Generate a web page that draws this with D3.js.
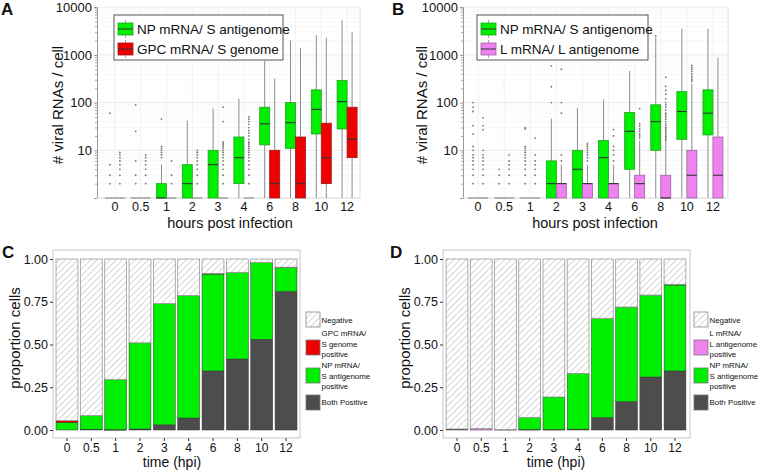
<!DOCTYPE html>
<html><head><meta charset="utf-8">
<script src="https://cdn.jsdelivr.net/npm/d3@7"></script>
<style>
body{margin:0;background:#fff}
svg{display:block}
text{font-family:'Liberation Sans',Arial,Helvetica,sans-serif;fill:#111}
</style>
</head><body>
<svg id="fig" width="760" height="473"></svg>
<script>
// ---------- data ----------
const cats = ["0","0.5","1","2","3","4","6","8","10","12"];
const yTicksLog = [10,100,1000,10000];
const yTicksProp = [0,0.25,0.5,0.75,1];

// Panel A: NP mRNA / S antigenome
const aNpQ1  = [1,1,1,1,1,2,13,11,22,28];
const aNpMed = [1,1,1,2,5,7,36,38,72,105];
const aNpQ3  = [1,1,2,5,10,19,80,100,185,290];
const aNpLo  = [1,1,1,1,1,1,1,1,1,1];
const aNpHi  = [1,1,5,42,75,120,750,2000,2600,5300];
const aNpOut = [[2,3,5,60],[2,3,6,25,90],[7,8,9,10,11,12,45],[],[],[],[],[],[],[]];
// Panel A: GPC mRNA / S genome
const aGpcQ1  = [1,1,1,1,1,1,1,1,2,7];
const aGpcMed = [1,1,1,1,1,1,2,2,7,17];
const aGpcQ3  = [1,1,1,1,1,1,10,19,37,80];
const aGpcLo  = [1,1,1,1,1,1,1,1,1,1];
const aGpcHi  = [1,1,1,1,1,1,320,1400,2300,3000];
const aGpcOut = [[2,3,4,5,6,7,8,9],[2,3,4,5,6,7,8],[2,3,6],[2,3,4,5,6,7,8,9,10],
  [2,3,4,5,6,7,8,9,10,11,12,13,14,15,40,80],
  [2,3,4,5,6,7,8,9,10,11,12,13,14,15,17,20,23,26,30,35,40,45,50],[],[],[],[]];

// Panel B: NP mRNA / S antigenome
const bNpQ1  = [1,1,1,1,1,1,4,10,17,21];
const bNpMed = [1,1,1,2,4,7,25,40,65,60];
const bNpQ3  = [1,1,1,6,10,16,62,90,170,185];
const bNpLo  = [1,1,1,1,1,1,1,1,1,1];
const bNpHi  = [1,1,1,46,78,117,460,2300,3550,3550];
const bNpOut = [[2,3,4,5,6,7,8,10,12,22,33,65,80,100],[2,3,4],[2,3,4,5,6,7,8,9,10,11,12,28,30],
  [100,215,590],[],[],[],[2500],[],[]];
// Panel B: L mRNA / L antigenome
const bLQ1  = [1,1,1,1,1,1,1,1,1,1];
const bLMed = [1,1,1,2,2,2,2,1,3,3];
const bLQ3  = [1,1,1,2,2,2,3,3,10,19];
const bLLo  = [1,1,1,1,1,1,1,1,1,1];
const bLHi  = [1,1,1,5,5,5,16,15,250,870];
const bLOut = [[2,3,4,5,6,7,8,10,27,33,48],[2,3,4,5,6,8],[2,3,4,5,6,8,18],[6,8,60,100,500],
  [6,7,8,9,10,11,12,13,14],[6,8,10,12,20,27],[18,20,22,25,28,32,36,75],
  [16,17,18,19,20,22,24,26,28,30,33,36,40,45,50,55,60,70,80,90,100,120,150,180,220,340],
  [280,300,330,360,400,450,500,550,600],[]];

// Panel C: proportions
const cBoth = [0,0.004,0.002,0.006,0.03,0.07,0.345,0.415,0.53,0.81];
const cNp   = [0.045,0.081,0.293,0.504,0.71,0.717,0.567,0.507,0.45,0.14];
const cGpc  = [0.01,0,0,0,0,0,0.004,0,0,0.002];
const cNeg  = [0.945,0.915,0.705,0.49,0.26,0.213,0.084,0.078,0.02,0.048];
// Panel D: proportions
const dBoth = [0.006,0,0.003,0.003,0.003,0.005,0.072,0.166,0.31,0.345];
const dNp   = [0,0,0,0.071,0.19,0.326,0.581,0.553,0.479,0.503];
const dL    = [0,0.008,0,0,0,0,0,0,0,0.004];
const dNeg  = [0.994,0.992,0.997,0.926,0.807,0.669,0.347,0.281,0.211,0.148];

const GREEN = "#00ee00", RED = "#ee0000", PINK = "#ee82ee", DARK = "#4d4d4d";

const svg = d3.select("#fig");
const defs = svg.append("defs");
const pat = defs.append("pattern").attr("id","hatch").attr("patternUnits","userSpaceOnUse")
  .attr("width",4.5).attr("height",4.5).attr("patternTransform","rotate(45)");
pat.append("rect").attr("width",4.5).attr("height",4.5).attr("fill","#fff");
pat.append("line").attr("x1",0).attr("y1",0).attr("x2",0).attr("y2",4.5)
  .attr("stroke","#8a8a8a").attr("stroke-width",0.7);

function series(q1,med,q3,lo,hi,out){
  return cats.map((c,i)=>({c,q1:q1[i],med:med[i],q3:q3[i],lo:lo[i],hi:hi[i],out:out[i]}));
}

// ---------- box plot panel ----------
function boxPanel(o){
  const g = svg.append("g");
  const x = d3.scaleBand().domain(cats).range(o.band);
  const y = d3.scaleLog().domain([1,10000]).range([198,7.2]);
  const minor = [];
  [1,10,100,1000].forEach(d=>{for(let k=2;k<10;k++) minor.push(d*k);});
  g.append("g").selectAll("line").data(minor).join("line")
    .attr("x1",o.axisX).attr("x2",o.right).attr("y1",d=>y(d)).attr("y2",d=>y(d))
    .attr("stroke","#f3f3f3").attr("stroke-width",0.6);
  g.append("g").selectAll("line").data(yTicksLog).join("line")
    .attr("x1",o.axisX).attr("x2",o.right).attr("y1",d=>y(d)).attr("y2",d=>y(d))
    .attr("stroke","#e6e6e6").attr("stroke-width",0.8);
  g.append("g").selectAll("line").data(cats).join("line")
    .attr("x1",d=>x(d)+x.bandwidth()/2).attr("x2",d=>x(d)+x.bandwidth()/2)
    .attr("y1",y(10000)).attr("y2",y(1)).attr("stroke","#eeeeee").attr("stroke-width",0.8);
  g.append("line").attr("x1",o.right).attr("x2",o.right).attr("y1",y(10000)).attr("y2",y(1))
    .attr("stroke","#e0e0e0");
  const ax = g.append("g").attr("transform",`translate(${o.axisX},0)`)
    .call(d3.axisLeft(y).tickValues(yTicksLog).tickFormat(d3.format("d")).tickSize(3).tickPadding(2));
  ax.select(".domain").attr("stroke","#999");
  ax.selectAll(".tick line").attr("stroke","#999");
  ax.selectAll("text").attr("font-size",13).attr("fill","#111").attr("font-family","'Liberation Sans',Arial,sans-serif");
  const axm = g.append("g").attr("transform",`translate(${o.axisX},0)`)
    .call(d3.axisLeft(y).tickValues(minor).tickFormat("").tickSize(2));
  axm.select(".domain").remove();
  axm.selectAll(".tick line").attr("stroke","#aaa");
  g.append("line").attr("x1",o.axisX).attr("x2",o.right).attr("y1",y(1)).attr("y2",y(1))
    .attr("stroke","#d6d6d6");
  g.append("g").selectAll("text").data(cats).join("text")
    .attr("x",d=>x(d)+x.bandwidth()/2).attr("y",211).attr("text-anchor","middle")
    .attr("font-size",12.5).text(d=>d);
  const bw = 10;
  o.series.forEach((s,si)=>{
    const off = si===0 ? -bw/2 : bw/2;
    const sg = g.append("g");
    s.data.forEach(d=>{
      const cx = x(d.c)+x.bandwidth()/2+off;
      sg.append("line").attr("x1",cx).attr("x2",cx).attr("y1",y(d.q3)).attr("y2",y(d.hi))
        .attr("stroke","#8c8c8c").attr("stroke-width",1);
      sg.append("line").attr("x1",cx).attr("x2",cx).attr("y1",y(d.q1)).attr("y2",y(d.lo))
        .attr("stroke","#8c8c8c").attr("stroke-width",1);
      sg.selectAll(null).data(d.out).join("circle")
        .attr("cx",cx).attr("cy",v=>y(v)).attr("r",0.9).attr("fill","#777");
      if(d.q3>d.q1){
        sg.append("rect").attr("x",cx-bw/2).attr("width",bw)
          .attr("y",y(d.q3)).attr("height",y(d.q1)-y(d.q3))
          .attr("fill",s.color).attr("stroke",s.stroke).attr("stroke-width",0.8);
      }
      sg.append("line").attr("x1",cx-bw/2).attr("x2",cx+bw/2).attr("y1",y(d.med)).attr("y2",y(d.med))
        .attr("stroke", d.q3>d.q1 ? "#333" : "#888").attr("stroke-width",1.1);
    });
  });
  const lg = g.append("g");
  lg.append("rect").attr("x",o.leg.x).attr("y",15).attr("width",o.leg.w).attr("height",45)
    .attr("fill","#fff").attr("stroke","#555").attr("stroke-width",1);
  o.series.forEach((s,i)=>{
    const ky = 23+i*20;
    lg.append("line").attr("x1",o.leg.x+11.5).attr("x2",o.leg.x+11.5).attr("y1",ky-3).attr("y2",ky+15)
      .attr("stroke","#aaa");
    lg.append("rect").attr("x",o.leg.x+4).attr("y",ky).attr("width",15).attr("height",12)
      .attr("fill",s.color).attr("stroke",s.stroke).attr("stroke-width",0.8);
    lg.append("line").attr("x1",o.leg.x+4).attr("x2",o.leg.x+19).attr("y1",ky+6).attr("y2",ky+6)
      .attr("stroke","#333");
    lg.append("text").attr("x",o.leg.x+23).attr("y",ky+11).attr("font-size",13.5).text(s.name);
  });
  g.append("text").attr("transform",`translate(${o.ytx},105) rotate(-90)`).attr("text-anchor","middle")
    .attr("font-size",15).text("# viral RNAs / cell");
  g.append("text").attr("x",o.xtx).attr("y",228).attr("text-anchor","middle").attr("font-size",14.5)
    .text("hours post infection");
  g.append("text").attr("x",o.letterX).attr("y",15).attr("font-size",17).attr("font-weight","bold")
    .text(o.letter);
}

boxPanel({axisX:97,right:360,band:[102,360],ytx:63,xtx:230,letter:"A",letterX:1,
  leg:{x:114,w:169},
  series:[
    {name:"NP mRNA/ S antigenome",color:GREEN,stroke:"#22a022",data:series(aNpQ1,aNpMed,aNpQ3,aNpLo,aNpHi,aNpOut)},
    {name:"GPC mRNA/ S genome",color:RED,stroke:"#a01818",data:series(aGpcQ1,aGpcMed,aGpcQ3,aGpcLo,aGpcHi,aGpcOut)}
  ]});
boxPanel({axisX:463,right:728,band:[465,726],ytx:427,xtx:595,letter:"B",letterX:392,
  leg:{x:477,w:171},
  series:[
    {name:"NP mRNA/ S antigenome",color:GREEN,stroke:"#22a022",data:series(bNpQ1,bNpMed,bNpQ3,bNpLo,bNpHi,bNpOut)},
    {name:"L mRNA/ L antigenome",color:PINK,stroke:"#a060a0",data:series(bLQ1,bLMed,bLQ3,bLLo,bLHi,bLOut)}
  ]});

// ---------- stacked proportion panel ----------
function stackPanel(o){
  const g = svg.append("g");
  const x = d3.scaleBand().domain(cats).range(o.band);
  const y = d3.scaleLinear().domain([0,1]).range([430,259]);
  g.append("rect").attr("x",o.frame[0]).attr("y",250).attr("width",o.frame[1]-o.frame[0]).attr("height",188)
    .attr("fill","#fff").attr("stroke","#c8c8c8").attr("stroke-width",1);
  const rows = cats.map((c,i)=>{const r={c}; o.keys.forEach(k=>r[k.key]=k.vals[i]); return r;});
  const stack = d3.stack().keys(o.keys.map(k=>k.key))(rows);
  const bw = x.step()*0.9;
  stack.forEach((layer,li)=>{
    const k = o.keys[li];
    g.append("g").selectAll("rect").data(layer.filter(d=>d[1]-d[0]>0)).join("rect")
      .attr("x",d=>x(d.data.c)+x.step()/2-bw/2).attr("width",bw)
      .attr("y",d=>y(d[1])).attr("height",d=>Math.max(0.6,y(d[0])-y(d[1])))
      .attr("fill",k.fill).attr("stroke",k.stroke).attr("stroke-width",k.sw);
  });
  const ax = g.append("g").attr("transform",`translate(${o.frame[0]},0)`)
    .call(d3.axisLeft(y).tickValues(yTicksProp).tickFormat(d3.format(".2f")).tickSize(3).tickPadding(2));
  ax.select(".domain").remove();
  ax.selectAll(".tick line").attr("stroke","#333");
  ax.selectAll("text").attr("font-size",12.5).attr("fill","#222").attr("font-family","'Liberation Sans',Arial,sans-serif");
  const bx = g.append("g").attr("transform","translate(0,438)")
    .call(d3.axisBottom(x).tickSize(3).tickPadding(2));
  bx.select(".domain").remove();
  bx.selectAll(".tick line").attr("stroke","#333");
  bx.selectAll("text").attr("font-size",12).attr("fill","#222").attr("font-family","'Liberation Sans',Arial,sans-serif");
  g.append("text").attr("transform",`translate(${o.ytx},338) rotate(-90)`).attr("text-anchor","middle")
    .attr("font-size",15).text("proportion cells");
  g.append("text").attr("x",o.xtx).attr("y",467).attr("text-anchor","middle").attr("font-size",14)
    .text("time (hpi)");
  g.append("text").attr("x",o.letterX).attr("y",258).attr("font-size",17).attr("font-weight","bold")
    .text(o.letter);
  // legend (top to bottom: reversed stack order)
  const lx = o.legX;
  const items = o.keys.slice().reverse();
  const ky = [312,340,368,395];
  const tb = [[323],[336,346.5,357],[368,378.5,389],[405]];
  items.forEach((k,i)=>{
    g.append("rect").attr("x",lx).attr("y",ky[i]).attr("width",14).attr("height",15)
      .attr("fill",k.fill).attr("stroke",k.key==="neg"?"#888":"#777").attr("stroke-width",0.8);
    k.label.forEach((t,j)=>{
      g.append("text").attr("x",lx+15.5).attr("y",tb[i][j])
        .attr("font-size",7.9).attr("fill","#222").text(t);
    });
  });
}

stackPanel({frame:[53,300],band:[54.8,298.2],ytx:20,xtx:172,letter:"C",letterX:2,legX:306,
  keys:[
    {key:"both",vals:cBoth,fill:DARK,stroke:"#333",sw:0.5,label:["Both Positive"]},
    {key:"np",vals:cNp,fill:GREEN,stroke:"#333",sw:0.5,label:["NP mRNA/","S antigenome","positive"]},
    {key:"gpc",vals:cGpc,fill:RED,stroke:"#333",sw:0.5,label:["GPC mRNA/","S genome","positive"]},
    {key:"neg",vals:cNeg,fill:"url(#hatch)",stroke:"#999",sw:0.8,label:["Negative"]}
  ]});
stackPanel({frame:[443,690],band:[444.9,687.1],ytx:410,xtx:556,letter:"D",letterX:390,legX:694,
  keys:[
    {key:"both",vals:dBoth,fill:DARK,stroke:"#333",sw:0.5,label:["Both Positive"]},
    {key:"np",vals:dNp,fill:GREEN,stroke:"#333",sw:0.5,label:["NP mRNA/","S antigenome","positive"]},
    {key:"l",vals:dL,fill:PINK,stroke:"#333",sw:0.5,label:["L mRNA/","L antigenome","positive"]},
    {key:"neg",vals:dNeg,fill:"url(#hatch)",stroke:"#999",sw:0.8,label:["Negative"]}
  ]});
</script>
</body></html>
